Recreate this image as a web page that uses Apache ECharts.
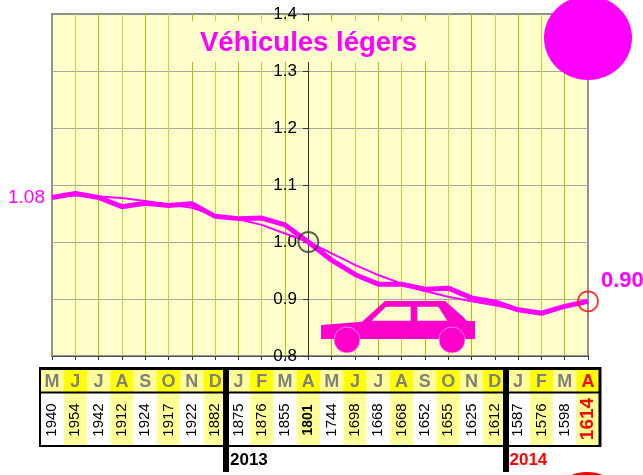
<!DOCTYPE html>
<html><head><meta charset="utf-8">
<style>html,body{margin:0;padding:0;background:#fff}#c{width:643px;height:475px}</style>
<script src="https://cdn.jsdelivr.net/npm/echarts@6/dist/echarts.min.js"></script>
</head><body><div id="c"></div>
<script>
const months = ['M','J','J','A','S','O','N','D','J','F','M','A','M','J','J','A','S','O','N','D','J','F','M','A'];
const counts = [1940,1954,1942,1912,1924,1917,1922,1882,1875,1876,1855,1801,1744,1698,1668,1668,1652,1655,1625,1612,1587,1576,1598,1614];
const indexValues = [1.078,1.085,1.078,1.062,1.068,1.064,1.067,1.045,1.041,1.042,1.03,1.0,0.968,0.943,0.926,0.926,0.917,0.919,0.902,0.895,0.881,0.875,0.887,0.896];
const trendValues = [1.08,1.082,1.08,1.077,1.072,1.066,1.06,1.047,1.04,1.03,1.015,1.0,0.98,0.96,0.942,0.927,0.914,0.904,0.896,0.889,0.881,0.877,0.886,0.896];
const yTicks = {min:0.8,max:1.4,step:0.1};
const FONT = '"Liberation Sans", Arial, sans-serif';
const PLOT = '#FFFFCC', PINK = '#FF00FF', MAGENTA = '#FF00CC';
const TOP=369, MID=392.5, BOT=445.5, HALF=11.65;

const chart = echarts.init(document.getElementById('c'), null, {renderer:'canvas'});

function cell(api){
  const i = api.value(0);
  const x = api.coord([i, 1])[0];
  const odd = i % 2 === 1;
  const last = i === months.length-1, ref = i === 11;
  return {type:'group', silent:true, children:[
    {type:'rect', shape:{x:x-HALF,y:TOP,width:HALF*2,height:MID-TOP}, style:{fill: odd?'#FFFF00':'#FFFF99'}},
    {type:'rect', shape:{x:x-HALF,y:MID,width:HALF*2,height:BOT-MID}, style:{fill: odd?'#FFFF99':'#FFFFFF'}},
    {type:'text', x:x, y:(TOP+MID)/2+1, style:{text:months[i], fill:last?'#FF0000':'#808080', font:'bold 18px '+FONT, align:'center', verticalAlign:'middle'}},
    {type:'text', x:x, y:last?419:420, rotation:Math.PI/2, originX:0, originY:0,
      style:{text:String(counts[i]), fill:last?'#FF0000':'#000000', font:(last?'bold 19px ':ref?'bold 14px ':'15px ')+FONT, align:'center', verticalAlign:'middle'}}
  ]};
}

const line=(x1,y1,x2,y2,w,c)=>({type:'line',z:20,silent:true,shape:{x1,y1,x2,y2},style:{stroke:c||'#000',lineWidth:w}});
const txt=(x,y,t,c)=>({type:'text',x,y,z:20,silent:true,style:{text:t,fill:c,font:'bold 17px '+FONT,verticalAlign:'middle'}});
const poly=(pts,c,z)=>({type:'polygon',z:z||6,silent:true,shape:{points:pts},style:{fill:c}});
const wheel=(cx)=>({type:'circle',z:7,silent:true,shape:{cx,cy:340,r:13},style:{fill:MAGENTA,stroke:'#FFD0F5',lineWidth:0.6}});

chart.setOption({
  animation:false,
  backgroundColor:'#fff',
  textStyle:{fontFamily:FONT},
  title:{text:'Véhicules légers',left:180,top:22,padding:[8,20,5,20],backgroundColor:PLOT,
    textStyle:{color:PINK,fontFamily:FONT,fontWeight:'bold',fontSize:27.5,lineHeight:26},z:3},
  grid:{left:52,right:55,top:14,height:342,show:true,backgroundColor:PLOT,borderColor:'#909090',borderWidth:2},
  xAxis:{type:'category',data:months,boundaryGap:false,
    axisLine:{show:true,lineStyle:{color:'#555555',width:1}},
    axisTick:{show:true,length:4,lineStyle:{color:'#333333'}},
    axisLabel:{show:false},
    splitLine:{show:true,showMinLine:false,showMaxLine:false,lineStyle:{color:['#B4DA48','#9ACD00'],width:1}}},
  yAxis:{type:'value',min:yTicks.min,max:yTicks.max,interval:yTicks.step,offset:-256,position:'left',
    axisLine:{show:true,lineStyle:{color:'#333333',width:1}},
    axisTick:{show:true,length:5,lineStyle:{color:'#333333'}},
    axisLabel:{color:'#000',fontSize:17,fontFamily:FONT,margin:11,padding:[4,0,0,0],formatter:v=>v.toFixed(1)},
    splitLine:{show:true,showMinLine:false,showMaxLine:false,lineStyle:{color:'#A8A8A0',width:1}}},
  series:[
    {type:'line',data:trendValues,symbol:'none',z:4,clip:false,lineStyle:{color:PINK,width:2}},
    {type:'line',z:5,clip:false,symbol:'circle',symbolSize:0,showSymbol:true,lineStyle:{color:PINK,width:5},
      data:indexValues.map((v,i)=> i===0 ? {value:v,label:{show:true,position:'left',distance:7,formatter:'1.08',color:PINK,fontSize:19,fontFamily:FONT}}
        : i===indexValues.length-1 ? {value:v,label:{show:true,position:[13,-31],formatter:'0.90',color:PINK,fontSize:22,fontWeight:'bold',fontFamily:FONT}} : v)},
    {type:'scatter',z:8,clip:false,symbol:'circle',symbolSize:20,silent:true,
      data:[{value:[11,indexValues[11]],itemStyle:{color:'transparent',borderColor:'#333333',borderWidth:1.8}},
            {value:[23,indexValues[23]],itemStyle:{color:'transparent',borderColor:'#FF0000',borderWidth:1.8}}]},
    {type:'custom',clip:false,silent:true,renderItem:(p,api)=>cell(api),data:months.map((m,i)=>[i,1]),encode:{x:0,y:1},z:2}
  ],
  graphic:[
    {type:'ellipse',z:10,silent:true,shape:{cx:588,cy:38,rx:44,ry:42},style:{fill:PINK}},
    poly([[321,325],[362,321.7],[385,301],[445,301],[463,316.7],[467,321],[475,321],[475,339],[321,339]],MAGENTA),
    poly([[371.7,320.7],[386,306.7],[410.7,306.7],[410.7,320.7]],PLOT,7),
    poly([[417.3,306.7],[438.3,306.7],[447.3,320.7],[417.3,320.7]],PLOT,7),
    wheel(347),wheel(452),
    line(39,368.5,601,368.5,3),
    line(39,392.5,601,392.5,2),
    line(39,446,601,446,2),
    line(40,367,40,447,2),
    line(600,367,600,447,3),
    line(226,367,226,472,6),
    line(506,367,506,472,6),
    txt(230,460,'2013','#000000'),
    txt(509.5,460,'2014','#FF0000'),
    {type:'ellipse',z:10,silent:true,shape:{cx:587,cy:484,rx:22,ry:10.5},style:{fill:'transparent',stroke:'#FF0000',lineWidth:3}}
  ]
});
</script></body></html>
